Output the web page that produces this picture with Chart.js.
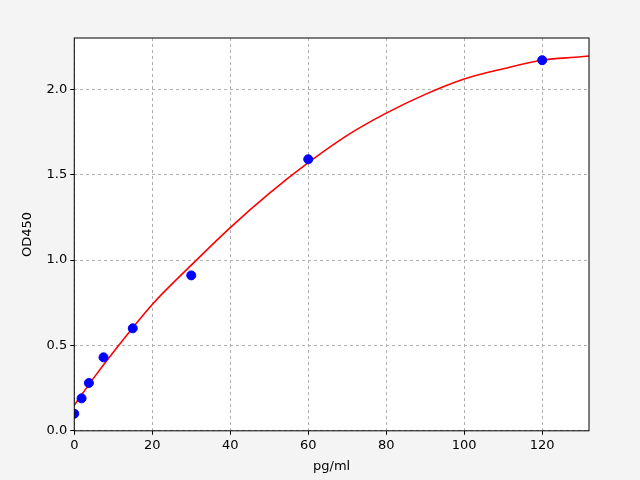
<!DOCTYPE html>
<html>
<head>
<script src="https://cdn.jsdelivr.net/npm/chart.js@4"></script>
<style>
  body { margin: 0; background: #f4f4f4; }
  canvas { display: block; }
</style>
</head>
<body>
<canvas id="myChart" width="640" height="480"></canvas>
<script>
const concX = [0, 1.875, 3.75, 7.5, 15, 30, 60, 120]
const odY = [0.10, 0.19, 0.28, 0.43, 0.60, 0.91, 1.59, 2.17]
const curveX = [0, 5, 10, 20, 30, 40, 50, 60, 70, 80, 90, 100, 110, 120, 130, 132]
const curveY = [0.15, 0.31, 0.46, 0.74, 0.97, 1.19, 1.39, 1.57, 1.73, 1.86, 1.97, 2.06, 2.12, 2.17, 2.19, 2.195]
const xTicks = [0, 20, 40, 60, 80, 100, 120]
const yTicks = [0, 0.5, 1.0, 1.5, 2.0]

const toPts = (xs, ys) => xs.map((x, i) => ({x: x, y: ys[i]}))

// white plot area + black frame like matplotlib
const frame = {
  id: 'frame',
  beforeDraw(chart) {
    const {ctx, chartArea: a} = chart
    ctx.save()
    ctx.fillStyle = '#ffffff'
    ctx.fillRect(a.left, a.top, a.right - a.left, a.bottom - a.top)
    ctx.restore()
  },
  afterDraw(chart) {
    const {ctx, chartArea: a} = chart
    ctx.save()
    ctx.strokeStyle = '#000'
    ctx.lineWidth = 1
    ctx.strokeRect(a.left, a.top, a.right - a.left, a.bottom - a.top)
    ctx.restore()
  }
}

Chart.defaults.font.family = 'DejaVu Sans'
Chart.defaults.font.size = 13
Chart.defaults.color = '#000'

new Chart(document.getElementById('myChart'), {
  type: 'scatter',
  data: {
    datasets: [{
      data: toPts(concX, odY),
      backgroundColor: '#0000ff',
      borderColor: '#0000ff',
      pointRadius: 4.5,
      order: 0
    }, {
      type: 'line',
      data: toPts(curveX, curveY),
      borderColor: '#ff0000',
      borderWidth: 1.6,
      pointRadius: 0,
      cubicInterpolationMode: 'monotone',
      order: 1
    }]
  },
  options: {
    responsive: false,
    animation: false,
    devicePixelRatio: 1,
    layout: { padding: { left: 20, right: 51, top: 38, bottom: 6 } },
    plugins: { legend: { display: false }, tooltip: { enabled: false } },
    scales: {
      x: {
        type: 'linear', min: 0, max: 132,
        afterBuildTicks: s => { s.ticks = xTicks.map(v => ({value: v})) },
        ticks: { padding: 3 },
        grid: { color: '#b0b0b0', tickColor: '#000', tickLength: 4 },
        border: { dash: [3, 3], display: false },
        title: { display: true, text: 'pg/ml', padding: { top: 2, bottom: 0 } }
      },
      y: {
        min: 0, max: 2.3,
        afterBuildTicks: s => { s.ticks = yTicks.map(v => ({value: v})) },
        ticks: { padding: 3, callback: v => v.toFixed(1) },
        grid: { color: '#b0b0b0', tickColor: '#000', tickLength: 4 },
        border: { dash: [3, 3], display: false },
        title: { display: true, text: 'OD450', padding: { top: 0, bottom: 8 } }
      }
    }
  },
  plugins: [frame]
})
</script>
</body>
</html>
